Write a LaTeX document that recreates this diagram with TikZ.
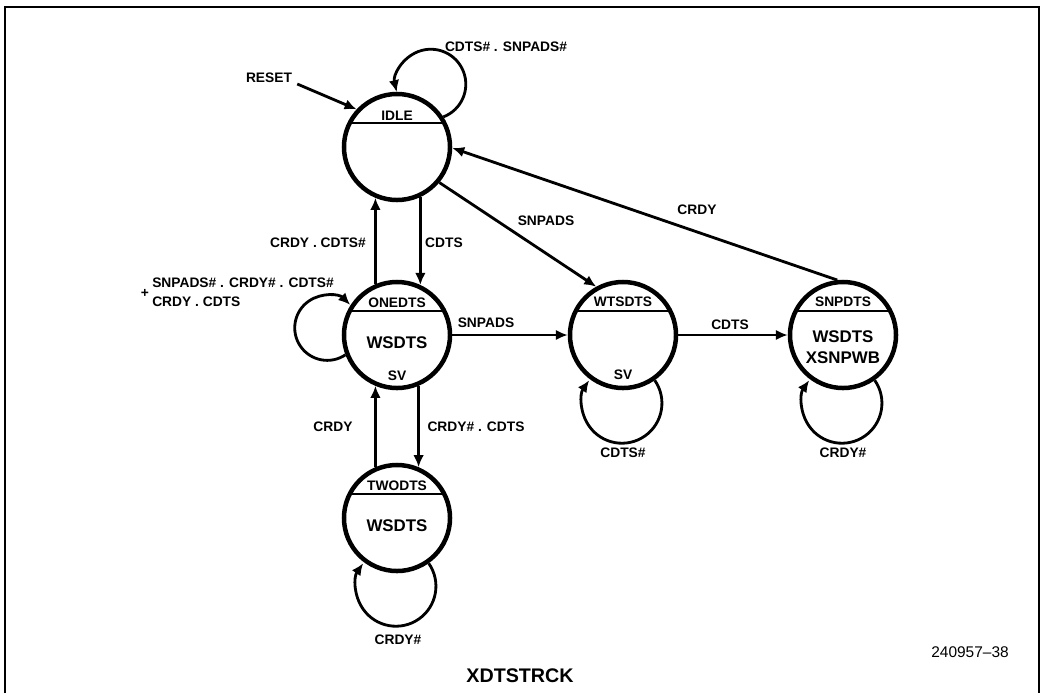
\documentclass[tikz,border=0pt]{standalone}
\usepackage{fontspec}
\setmainfont{Liberation Sans}
\usetikzlibrary{arrows.meta,calc}
\begin{document}
\begin{tikzpicture}[x=0.025cm,y=0.025cm,
  state/.style={circle,draw,line width=3.2pt,minimum size=2.65cm,inner sep=0pt,
    path picture={\draw[line width=1.5pt] ([yshift=0.6cm]path picture bounding box.west) -- ([yshift=0.6cm]path picture bounding box.east);}},
  lab/.style={font=\fontsize{9.8}{11}\selectfont\bfseries,inner sep=0pt},
  big/.style={font=\fontsize{12}{15}\selectfont\bfseries,inner sep=0pt},
  edge/.style={line width=2pt,-{Latex[length=8.5pt,width=7.5pt]}}]
\useasboundingbox (0,0) rectangle (1045,-693);
\draw[line width=1.6pt] (5,-693) -- (5,-7) -- (1039,-7) -- (1039,-693);
% states
\node[state] (idle) at (397,-147) {};
\node[lab] (idleT) at (397,-116) {IDLE};
\node[state] (one) at (397,-335) {};
\node[lab] (oneT) at (397,-303) {ONEDTS};
\node[big] (oneW) at (397,-343) {WSDTS};
\node[lab] (oneS) at (397,-376) {SV};
\node[state] (two) at (397,-518) {};
\node[lab] (twoT) at (397,-486) {TWODTS};
\node[big] (twoW) at (397,-526) {WSDTS};
\node[state] (wts) at (623,-335) {};
\node[lab] (wtsT) at (623,-302) {WTSDTS};
\node[lab] (wtsS) at (623,-375) {SV};
\node[state] (snp) at (843,-335) {};
\node[lab] (snpT) at (843,-302) {SNPDTS};
\node[big,align=center] (snpW) at (843,-347) {WSDTS\\XSNPWB};
% reset
\node[lab] (reset) at (269,-78) {RESET};
\draw[edge] ([shift={(5,-6)}]reset.east) -- (idle.137);
% self loops
\draw[edge] (idle.33) arc[start angle=-69,end angle=193,radius=35];
\draw[edge] (one.201) arc[start angle=-56,end angle=-315,radius=32.5];
\draw[edge] (two.-55) arc[start angle=35,end angle=-215,radius=40];
\draw[edge] (wts.-55) arc[start angle=35,end angle=-215,radius=40];
\draw[edge] (snp.-55) arc[start angle=35,end angle=-215,radius=40];
% transitions
\draw[edge] (idle.-65.3) -- (one.65.3);
\draw[edge] (one.113.6) -- (idle.-113.6);
\draw[edge] (one.-67.6) -- (two.67.6);
\draw[edge] (two.113.6) -- (one.-113.6);
\draw[edge] (one) -- (wts);
\draw[edge] (wts) -- (snp);
\draw[edge] (idle.-40) -- (wts.119);
\draw[edge] (snp.96) -- (idle.-1);
% labels
\node[lab] (l1) at (506,-47) {CDTS\# . SNPADS\#};
\node[lab] (l2) at (318,-243) {CRDY . CDTS\#};
\node[lab] (l3) at (444,-243) {CDTS};
\node[lab] (l4) at (546,-221) {SNPADS};
\node[lab] (l5) at (697,-210) {CRDY};
\node[lab] (l6) at (486,-323) {SNPADS};
\node[lab] (l7) at (730,-325) {CDTS};
\node[lab,anchor=west,align=left,font=\fontsize{9.8}{13.5}\selectfont\bfseries] (l8) at (152,-292) {SNPADS\# . CRDY\# . CDTS\#\\CRDY . CDTS};
\node[lab] (plus) at (145,-293) {+};
\node[lab] (l9) at (333,-427) {CRDY};
\node[lab] (l10) at (476,-427) {CRDY\# . CDTS};
\node[lab] (l11) at (623,-453) {CDTS\#};
\node[lab] (l12) at (843,-453) {CRDY\#};
\node[lab] (l13) at (398,-640) {CRDY\#};
\node[font=\fontsize{11}{13}\selectfont,inner sep=0pt] (fig) at (970,-652) {240957\textendash 38};
\node[font=\fontsize{14}{16}\selectfont\bfseries,inner sep=0pt] (title) at (520,-676) {XDTSTRCK};
\end{tikzpicture}
\end{document}
